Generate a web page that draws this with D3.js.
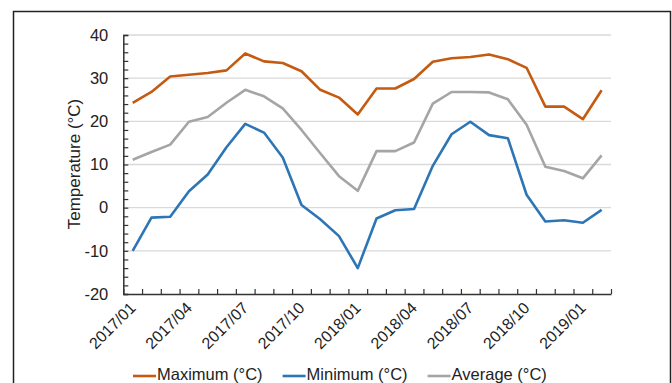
<!DOCTYPE html>
<html>
<head>
<meta charset="utf-8">
<script src="https://cdn.jsdelivr.net/npm/d3@7/dist/d3.min.js"></script>
<style>
  html, body { margin: 0; padding: 0; background: #fff; }
  svg { display: block; font-family: "Liberation Sans", Arial, sans-serif; }
</style>
</head>
<body>
<svg id="chart" width="672" height="383"></svg>
<script>
// Monthly temperatures, 2017/01 - 2019/02
const months = [
  "2017/01","2017/02","2017/03","2017/04","2017/05","2017/06","2017/07","2017/08","2017/09",
  "2017/10","2017/11","2017/12","2018/01","2018/02","2018/03","2018/04","2018/05","2018/06",
  "2018/07","2018/08","2018/09","2018/10","2018/11","2018/12","2019/01","2019/02"
];
const maximum = [24.3, 26.8, 30.4, 30.8, 31.2, 31.8, 35.7, 33.9, 33.5, 31.6, 27.3, 25.5, 21.6,
                 27.6, 27.6, 29.8, 33.8, 34.6, 34.9, 35.5, 34.4, 32.4, 23.4, 23.4, 20.5, 27.2];
const minimum = [-10.0, -2.3, -2.1, 3.8, 7.7, 14.0, 19.4, 17.4, 11.6, 0.6, -2.7, -6.6, -14.0,
                 -2.5, -0.6, -0.3, 9.7, 17.0, 19.9, 16.8, 16.1, 3.0, -3.2, -2.9, -3.5, -0.5];
const average = [11.1, 12.9, 14.6, 19.9, 21.0, 24.3, 27.3, 25.8, 23.0, 18.0, 12.6, 7.3, 3.9,
                 13.1, 13.1, 15.1, 24.1, 26.8, 26.8, 26.7, 25.1, 19.2, 9.5, 8.5, 6.8, 12.1];
const seriesNames = ["Maximum (°C)", "Minimum (°C)", "Average (°C)"];
const yTickLabels = [-20, -10, 0, 10, 20, 30, 40];
const xTickLabels = ["2017/01","2017/04","2017/07","2017/10","2018/01","2018/04","2018/07","2018/10","2019/01"];

const colors = ["#C55A11", "#2E75B6", "#A5A5A5"];
const series = [maximum, minimum, average].map((vals, i) => ({
  name: seriesNames[i], color: colors[i], values: vals
}));

const svg = d3.select("#chart");
const plot = { left: 123.3, right: 611, top: 35, bottom: 294 };

// outer frame
svg.append("rect")
  .attr("x", 13.5).attr("y", 11.5)
  .attr("width", 657).attr("height", 400)
  .attr("fill", "none").attr("stroke", "#222").attr("stroke-width", 1.5);

const x = d3.scaleBand().domain(months).range([plot.left, plot.right]).padding(0);
const xIdx = d3.scaleLinear().domain([0, months.length]).range([plot.left, plot.right]);
const y = d3.scaleLinear().domain([-20, 40]).range([plot.bottom, plot.top]);

// horizontal gridlines
svg.append("g")
  .selectAll("line")
  .data(yTickLabels.filter(v => v > -20))
  .join("line")
  .attr("x1", plot.left).attr("x2", plot.right)
  .attr("y1", d => y(d)).attr("y2", d => y(d))
  .attr("stroke", "#D9D9D9").attr("stroke-width", 1.3);

// y axis: minor ticks every 2 degrees, labels every 10
const yAxis = svg.append("g")
  .attr("transform", `translate(${plot.left},0)`)
  .call(d3.axisLeft(y)
    .tickValues(d3.range(-20, 41, 2))
    .tickSize(-5)
    .tickPadding(15)
    .tickFormat(d => yTickLabels.includes(d) ? d : ""));
yAxis.select(".domain").attr("stroke", "#333").attr("stroke-width", 1.5);
yAxis.selectAll(".tick line").attr("stroke", "#333").attr("stroke-width", 1.2);
yAxis.selectAll(".tick text")
  .attr("fill", "#222").attr("font-size", 16.5)
  .attr("font-family", "Liberation Sans, Arial, sans-serif");

// x axis: ticks on month boundaries
const xAxis = svg.append("g")
  .attr("transform", `translate(0,${plot.bottom})`)
  .call(d3.axisBottom(xIdx)
    .tickValues(d3.range(0, months.length + 1))
    .tickSize(-5)
    .tickSizeOuter(0)
    .tickFormat(""));
xAxis.select(".domain").attr("stroke", "#333").attr("stroke-width", 1.5);
xAxis.selectAll(".tick line").attr("stroke", "#333").attr("stroke-width", 1.2);

// rotated month labels
svg.append("g")
  .selectAll("text")
  .data(xTickLabels)
  .join("text")
  .attr("transform", d => `translate(${x(d) + x.bandwidth() / 2 + 4},${plot.bottom + 15}) rotate(-45)`)
  .attr("text-anchor", "end")
  .attr("font-size", 16)
  .attr("fill", "#222")
  .text(d => d);

// y axis title
svg.append("text")
  .attr("transform", `translate(80,164) rotate(-90)`)
  .attr("text-anchor", "middle")
  .attr("font-size", 17)
  .attr("fill", "#222")
  .text("Temperature (°C)");

// series lines
const line = d3.line()
  .x((d, i) => x(months[i]) + x.bandwidth() / 2)
  .y(d => y(d));

svg.append("g")
  .selectAll("path")
  .data(series)
  .join("path")
  .attr("d", d => line(d.values))
  .attr("fill", "none")
  .attr("stroke", d => d.color)
  .attr("stroke-width", 2.6)
  .attr("stroke-linejoin", "round");

// legend
const legend = svg.append("g");
let lx = 133;
series.forEach(s => {
  const g = legend.append("g");
  g.append("line")
    .attr("x1", lx).attr("x2", lx + 23)
    .attr("y1", 376).attr("y2", 376)
    .attr("stroke", s.color).attr("stroke-width", 2.6);
  const t = g.append("text")
    .attr("x", lx + 24).attr("y", 380)
    .attr("font-size", 16.5).attr("fill", "#222")
    .text(s.name);
  lx += 24 + t.node().getComputedTextLength() + 20;
});
</script>
</body>
</html>
